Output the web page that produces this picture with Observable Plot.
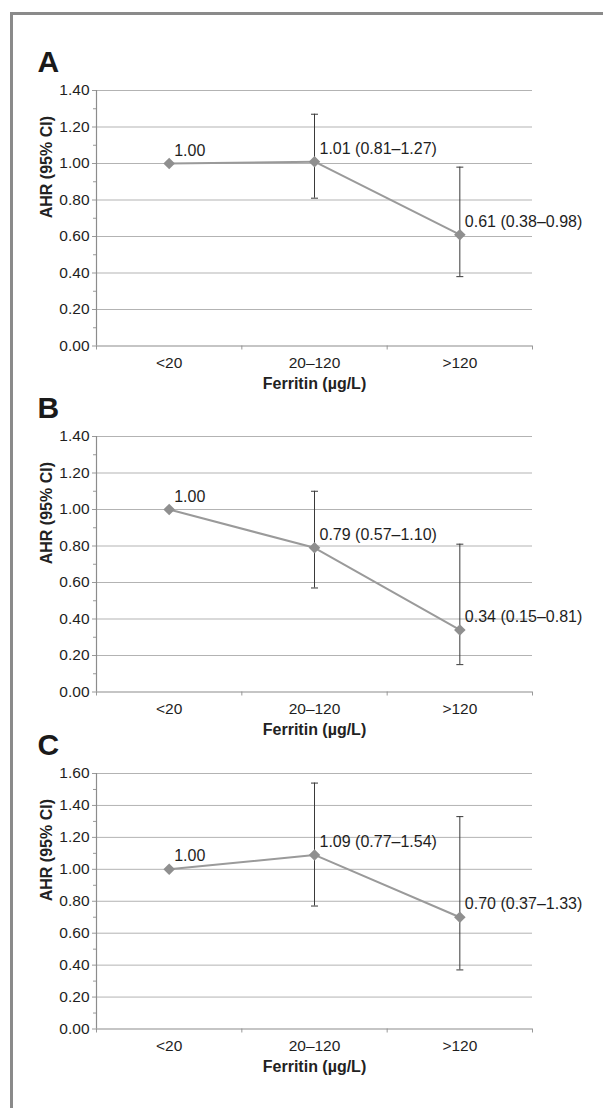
<!DOCTYPE html>
<html>
<head>
<meta charset="utf-8">
<script src="https://cdn.jsdelivr.net/npm/d3@7"></script>
<script src="https://cdn.jsdelivr.net/npm/@observablehq/plot@0.6"></script>
<style>
  html, body { margin: 0; padding: 0; background: #fff; overflow: hidden; }
  #page { position: relative; width: 603px; height: 1108px; overflow: hidden; background: #fff; }
  #frame { position: absolute; left: 10px; top: 12px; width: 720px; height: 1200px;
           border: 3px solid #8a8a8a; box-sizing: border-box; }
  .panel { position: absolute; left: 0; }
</style>
</head>
<body>
<div id="page"><div id="frame"></div></div>
<script>
// ---- data ----
const categories = ["<20", "20–120", ">120"];
const panelLetters = ["A", "B", "C"];

const ahrA  = [1.00, 1.01, 0.61];
const lowA  = [null, 0.81, 0.38];
const highA = [null, 1.27, 0.98];

const ahrB  = [1.00, 0.79, 0.34];
const lowB  = [null, 0.57, 0.15];
const highB = [null, 1.10, 0.81];

const ahrC  = [1.00, 1.09, 0.70];
const lowC  = [null, 0.77, 0.37];
const highC = [null, 1.54, 1.33];

const yMaxes = [1.4, 1.4, 1.6];
const yTitle = "AHR (95% CI)";
const xTitle = "Ferritin (µg/L)";

// ---- layout ----
const panelTops = [45, 391, 728.3];
const marginTop = 45, plotH = 255.5, marginBottom = 55;
const fontFamily = "'Liberation Sans', Arial, Helvetica, sans-serif";

const capSymbol = {
  draw(ctx) { ctx.moveTo(-3.5, 0); ctx.lineTo(3.5, 0); }
};

const panels = [
  {ahr: ahrA, low: lowA, high: highA},
  {ahr: ahrB, low: lowB, high: highB},
  {ahr: ahrC, low: lowC, high: highC}
];

const page = document.getElementById("page");
const idx = categories.map((_, i) => i);
const bounds = d3.range(categories.length + 1).map(i => i - 0.5);

panels.forEach((p, k) => {
  const rows = categories.map((c, i) => ({
    i,
    v: p.ahr[i],
    lo: p.low[i],
    hi: p.high[i],
    label: p.low[i] == null
      ? p.ahr[i].toFixed(2)
      : `${p.ahr[i].toFixed(2)} (${p.low[i].toFixed(2)}–${p.high[i].toFixed(2)})`
  }));
  const ci = rows.filter(d => d.lo != null);
  const yMax = yMaxes[k];
  const major = d3.ticks(0, yMax, Math.round(yMax / 0.2));
  const minor = d3.ticks(0, yMax, Math.round(yMax / 0.1)).filter(t => !major.some(m => Math.abs(m - t) < 1e-9));

  const chart = Plot.plot({
    width: 603,
    height: marginTop + plotH + marginBottom,
    marginLeft: 96,
    marginRight: 71,
    marginTop,
    marginBottom,
    style: {fontFamily, background: "transparent", overflow: "visible"},
    x: {type: "linear", domain: [-0.5, categories.length - 0.5]},
    y: {domain: [0, yMax]},
    marks: [
      Plot.ruleY(major.filter(t => t > 0), {stroke: "#b3b3b3", strokeWidth: 1}),
      Plot.axisY({ticks: minor, tickSize: 3, tickFormat: () => "", stroke: "#999", label: null}),
      Plot.axisY({ticks: major, tickSize: 4, tickPadding: 3, tickFormat: d3.format(".2f"),
                  fontSize: 15.5, fill: "#1e1e1e", stroke: "#999", label: null}),
      Plot.axisX({ticks: bounds, tickSize: 4, tickFormat: () => "", stroke: "#999", label: null}),
      Plot.axisX({ticks: idx, tickSize: 0, tickPadding: 11, tickFormat: i => categories[i],
                  fontSize: 15.5, fill: "#1e1e1e", label: null}),
      Plot.ruleY([0], {stroke: "#8c8c8c", strokeWidth: 1.2}),
      Plot.ruleX([-0.5], {stroke: "#8c8c8c", strokeWidth: 1.2}),
      Plot.ruleX(ci, {x: "i", y1: "lo", y2: "hi", stroke: "#3a3a3a", strokeWidth: 1}),
      Plot.dot(ci, {x: "i", y: "lo", symbol: capSymbol, r: 3, stroke: "#3a3a3a", fill: "none", strokeWidth: 1}),
      Plot.dot(ci, {x: "i", y: "hi", symbol: capSymbol, r: 3, stroke: "#3a3a3a", fill: "none", strokeWidth: 1}),
      Plot.line(rows, {x: "i", y: "v", stroke: "#9a9a9a", strokeWidth: 2}),
      Plot.dot(rows, {x: "i", y: "v", symbol: "diamond2", r: 5.2, fill: "#8f8f8f", stroke: "none"}),
      Plot.text(rows, {x: "i", y: "v", text: "label", textAnchor: "start", dx: 5, dy: -13,
                       fontSize: 16, fill: "#1e1e1e"}),
      Plot.text([yTitle], {text: d => d, frameAnchor: "left", rotate: -90, dx: -50,
                           fontSize: 16, fontWeight: "bold", fill: "#222"}),
      Plot.text([xTitle], {text: d => d, frameAnchor: "bottom", dy: 43,
                           fontSize: 16, fontWeight: "bold", fill: "#222"}),
      Plot.text([panelLetters[k]], {text: d => d, frameAnchor: "top-left", textAnchor: "start",
                           lineAnchor: "bottom", dx: -59, dy: -19,
                           fontSize: 30, fontWeight: "bold", fill: "#1a1a1a"})
    ]
  });
  chart.classList.add("panel");
  chart.style.top = panelTops[k] + "px";
  chart.style.position = "absolute";
  chart.style.left = "0px";
  page.appendChild(chart);
});
</script>
</body>
</html>
